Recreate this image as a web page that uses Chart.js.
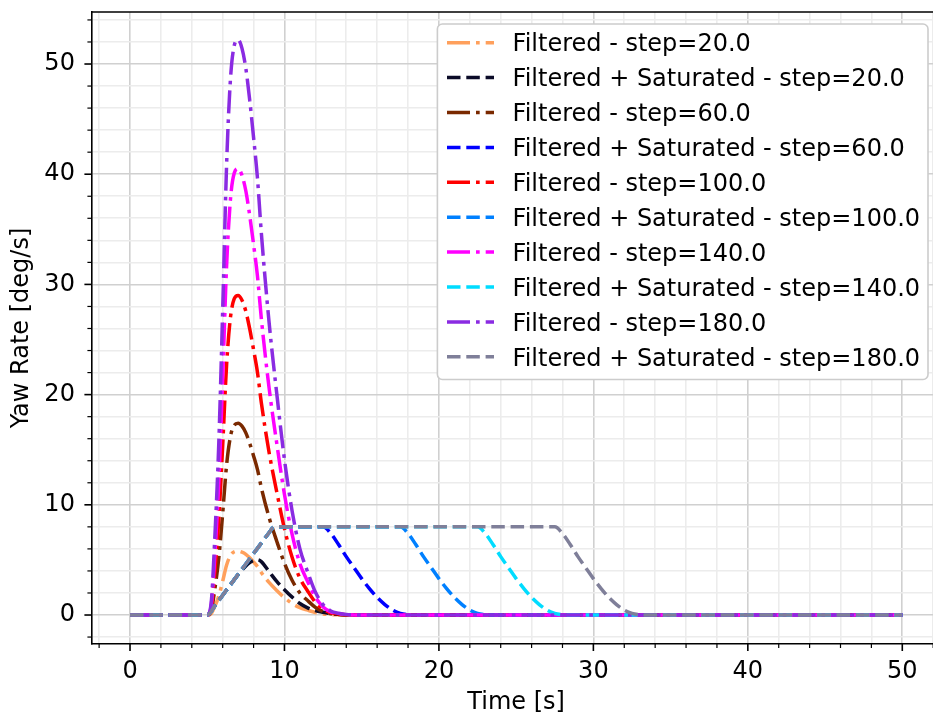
<!DOCTYPE html>
<html><head><meta charset="utf-8">
<script src="https://cdn.jsdelivr.net/npm/chart.js@4"></script>
<style>
html,body{margin:0;padding:0;overflow:hidden;background:#fff;width:933px;height:716px}
#wrap{position:absolute;left:0;top:0;width:950px;height:716px}
</style></head>
<body><div id="wrap"><canvas id="c" width="950" height="716" style="width:950px;height:716px"></canvas></div>
<script>
// ---------- data ----------
const timeShort = [0, 5, 5.25, 5.5, 5.75, 6, 6.25, 6.5, 6.75, 7, 7.25, 7.5, 7.75, 8, 8.25, 8.5, 9, 9.5, 10, 10.5, 11, 11.5, 12, 12.5, 13, 13.5, 14, 15, 16, 50];
const timeLong = [0, 5, 5.5, 6, 6.5, 7, 7.5, 8, 8.5, 9, 9.25, 9.5, 10, 10.5, 11, 11.5, 12, 12.5, 13, 13.5, 14, 14.5, 15, 15.5, 16, 16.5, 17, 17.5, 18, 18.5, 19, 19.5, 20, 20.5, 21, 21.5, 22, 22.5, 23, 23.5, 24, 24.5, 25, 25.5, 26, 26.5, 27, 27.5, 28, 28.5, 29, 29.5, 30, 30.5, 31, 31.5, 32, 32.5, 33, 33.5, 34, 50];

const filt20 = [0, 0, 0.12, 0.81, 1.74, 3.07, 4.52, 5.39, 5.74, 5.8, 5.71, 5.51, 5.19, 4.81, 4.41, 3.86, 2.96, 2.23, 1.57, 1.04, 0.67, 0.44, 0.23, 0.1, 0.04, 0.02, 0.01, 0, 0, 0];
const sat20 = [0, 0, 0.38, 0.85, 1.32, 1.8, 2.27, 2.74, 3.21, 3.66, 4.08, 4.45, 4.75, 4.95, 5.02, 4.85, 3.95, 3.05, 2.3, 1.62, 1.05, 0.65, 0.4, 0.25, 0.13, 0.06, 0.03, 0.005, 0, 0];
const filt60 = [0, 0, 0.35, 2.44, 5.22, 9.22, 13.57, 16.18, 17.23, 17.4, 17.14, 16.53, 15.57, 14.44, 13.22, 11.57, 8.87, 6.7, 4.7, 3.13, 2.0, 1.31, 0.7, 0.31, 0.12, 0.05, 0.02, 0, 0, 0];
const filt100 = [0, 0, 0.58, 4.06, 8.7, 15.37, 22.62, 26.97, 28.71, 29.0, 28.57, 27.55, 25.96, 24.07, 22.04, 19.29, 14.79, 11.17, 7.83, 5.22, 3.34, 2.18, 1.16, 0.52, 0.2, 0.09, 0.03, 0, 0, 0];
const filt140 = [0, 0, 0.81, 5.67, 12.15, 21.47, 31.59, 37.67, 40.1, 40.5, 39.89, 38.48, 36.25, 33.62, 30.78, 26.93, 20.66, 15.59, 10.94, 7.29, 4.66, 3.04, 1.62, 0.73, 0.28, 0.12, 0.04, 0, 0, 0];
const filt180 = [0, 0, 1.04, 7.31, 15.66, 27.67, 40.72, 48.55, 51.68, 52.2, 51.42, 49.59, 46.72, 43.33, 39.67, 34.71, 26.62, 20.1, 14.09, 9.4, 6.0, 3.92, 2.09, 0.94, 0.37, 0.16, 0.05, 0, 0, 0];

const sat60 = [0, 0, 0.85, 1.8, 2.74, 3.69, 4.63, 5.58, 6.52, 7.47, 7.93, 8,
  8, 8, 8, 8, 8, 8,
  7.4, 6.4, 5.3, 4.3, 3.3, 2.4, 1.6, 0.95, 0.45, 0.15, 0.03, 0, 0,
  0, 0, 0, 0, 0, 0, 0, 0, 0, 0, 0, 0, 0, 0, 0, 0, 0, 0, 0, 0, 0, 0, 0, 0, 0, 0, 0, 0, 0, 0, 0];
const sat100 = [0, 0, 0.85, 1.8, 2.74, 3.69, 4.63, 5.58, 6.52, 7.47, 7.93, 8,
  8, 8, 8, 8, 8, 8, 8, 8, 8, 8, 8, 8, 8, 8, 8, 8,
  7.4, 6.4, 5.3, 4.3, 3.3, 2.4, 1.6, 0.95, 0.45, 0.15, 0.03, 0, 0,
  0, 0, 0, 0, 0, 0, 0, 0, 0, 0, 0, 0, 0, 0, 0, 0, 0, 0, 0, 0, 0];
const sat140 = [0, 0, 0.85, 1.8, 2.74, 3.69, 4.63, 5.58, 6.52, 7.47, 7.93, 8,
  8, 8, 8, 8, 8, 8, 8, 8, 8, 8, 8, 8, 8, 8, 8, 8, 8, 8, 8, 8, 8, 8, 8, 8, 8, 8,
  7.4, 6.4, 5.3, 4.3, 3.3, 2.4, 1.6, 0.95, 0.45, 0.15, 0.03, 0, 0,
  0, 0, 0, 0, 0, 0, 0, 0, 0, 0, 0];
const sat180 = [0, 0, 0.85, 1.8, 2.74, 3.69, 4.63, 5.58, 6.52, 7.47, 7.93, 8,
  8, 8, 8, 8, 8, 8, 8, 8, 8, 8, 8, 8, 8, 8, 8, 8, 8, 8, 8, 8, 8, 8, 8, 8, 8, 8, 8, 8, 8, 8, 8, 8, 8, 8, 8, 8,
  7.4, 6.4, 5.3, 4.3, 3.3, 2.4, 1.6, 0.95, 0.45, 0.15, 0.03, 0, 0,
  0];

const seriesLabels = [
  'Filtered - step=20.0', 'Filtered + Saturated - step=20.0',
  'Filtered - step=60.0', 'Filtered + Saturated - step=60.0',
  'Filtered - step=100.0', 'Filtered + Saturated - step=100.0',
  'Filtered - step=140.0', 'Filtered + Saturated - step=140.0',
  'Filtered - step=180.0', 'Filtered + Saturated - step=180.0'
];

const xTicks = [-2, 0, 2, 4, 6, 8, 10, 12, 14, 16, 18, 20, 22, 24, 26, 28, 30, 32, 34, 36, 38, 40, 42, 44, 46, 48, 50, 52];
const yTicks = [-2, 0, 2, 4, 6, 8, 10, 12, 14, 16, 18, 20, 22, 24, 26, 28, 30, 32, 34, 36, 38, 40, 42, 44, 46, 48, 50, 52, 54];
const xLabelTicks = [0, 10, 20, 30, 40, 50];
const yLabelTicks = [0, 10, 20, 30, 40, 50];

// ---------- styles ----------
const FS = 24;
const FAMILY = '"DejaVu Sans", sans-serif';
const DASHDOT = [23, 6, 3.7, 6];
const DASHED = [13.5, 5.8];
const LW = 3.5;

const specs = [
  [timeShort, filt20, '#ffa05c', DASHDOT],
  [timeShort, sat20, '#0b0b28', DASHED],
  [timeShort, filt60, '#7a2900', DASHDOT],
  [timeLong, sat60, '#0000ff', DASHED],
  [timeShort, filt100, '#ff0000', DASHDOT],
  [timeLong, sat100, '#0080ff', DASHED],
  [timeShort, filt140, '#ff00ff', DASHDOT],
  [timeLong, sat140, '#00dcff', DASHED],
  [timeShort, filt180, '#8a2be2', DASHDOT],
  [timeLong, sat180, '#7f7f99', DASHED]
];

const datasets = specs.map((s, i) => ({
  label: seriesLabels[i],
  data: s[0].map((t, k) => ({x: t, y: s[1][k]})),
  borderColor: s[2],
  backgroundColor: s[2],
  borderDash: s[3],
  borderWidth: LW,
  pointRadius: 0,
  cubicInterpolationMode: 'monotone',
  fill: false,
  order: -i
}));

const AREA = {left: 91.4, right: 940.9, top: 12, bottom: 644};
const CW = 950, CH = 716;

const isMajor = v => Math.abs(v % 10) < 1e-9;

const mplPlugin = {
  id: 'mpl',
  afterDraw(chart) {
    const ctx = chart.ctx, a = chart.chartArea;
    const xs = chart.scales.x, ys = chart.scales.y;
    ctx.save();
    // top & right spines
    ctx.strokeStyle = '#000'; ctx.lineWidth = 1.6; ctx.setLineDash([]);
    ctx.beginPath();
    ctx.moveTo(a.left, a.top); ctx.lineTo(a.right, a.top); ctx.lineTo(a.right, a.bottom);
    ctx.stroke();
    // ticks
    xTicks.forEach(v => {
      const p = xs.getPixelForValue(v);
      const maj = isMajor(v);
      ctx.lineWidth = maj ? 1.6 : 1.2;
      ctx.beginPath(); ctx.moveTo(p, a.bottom); ctx.lineTo(p, a.bottom + (maj ? 7 : 4)); ctx.stroke();
    });
    yTicks.forEach(v => {
      const p = ys.getPixelForValue(v);
      const maj = isMajor(v);
      ctx.lineWidth = maj ? 1.6 : 1.2;
      ctx.beginPath(); ctx.moveTo(a.left, p); ctx.lineTo(a.left - (maj ? 7 : 4), p); ctx.stroke();
    });
    // legend
    const L = 437.4, T = 24, R = 928, B = 379.5;
    ctx.beginPath();
    ctx.roundRect(L, T, R - L, B - T, 5);
    ctx.fillStyle = '#ffffff'; ctx.fill();
    ctx.strokeStyle = '#cccccc'; ctx.lineWidth = 1.6; ctx.stroke();
    ctx.font = FS + 'px ' + FAMILY;
    ctx.textBaseline = 'alphabetic';
    ctx.textAlign = 'left';
    chart.data.datasets.forEach((ds, i) => {
      const y = 42.7 + i * 34.9;
      ctx.beginPath();
      ctx.setLineDash(ds.borderDash);
      ctx.strokeStyle = ds.borderColor;
      ctx.lineWidth = ds.borderWidth;
      ctx.moveTo(447, y); ctx.lineTo(494, y); ctx.stroke();
      ctx.setLineDash([]);
      ctx.fillStyle = '#000';
      ctx.fillText(ds.label, 512.6, y + 0.729 * FS / 2);
    });
    ctx.restore();
  }
};

Chart.defaults.font.family = FAMILY;
Chart.defaults.font.size = FS;
Chart.defaults.color = '#000';

new Chart(document.getElementById('c'), {
  type: 'line',
  data: {datasets},
  options: {
    responsive: false,
    animation: false,
    devicePixelRatio: 1,
    layout: {padding: {left: 0, top: AREA.top, right: CW - AREA.right, bottom: 0}},
    plugins: {legend: {display: false}, tooltip: {enabled: false}},
    scales: {
      x: {
        type: 'linear', min: -2.5, max: 52.5,
        afterBuildTicks: s => { s.ticks = xTicks.map(v => ({value: v})); },
        afterFit: s => { s.height = CH - AREA.bottom; s.paddingLeft = 0; s.paddingRight = 0; s.paddingTop = 0; s.paddingBottom = 0; },
        ticks: {
          autoSkip: false, maxRotation: 0, minRotation: 0, padding: 13.3,
          font: {size: FS, lineHeight: 1.2},
          callback: v => xLabelTicks.includes(v) ? String(v) : ''
        },
        grid: {
          drawTicks: false,
          color: c => (c.tick && isMajor(c.tick.value)) ? '#d0d0d0' : '#ececec',
          lineWidth: 1.6
        },
        border: {display: true, color: '#000', width: 1.6},
        title: {display: true, text: 'Time [s]', font: {size: FS, lineHeight: 1.2}, padding: {top: 0, bottom: -1.5}}
      },
      y: {
        type: 'linear', min: -2.63, max: 54.72,
        afterBuildTicks: s => { s.ticks = yTicks.map(v => ({value: v})); },
        afterFit: s => { s.width = AREA.left; s.paddingLeft = 0; s.paddingRight = 0; s.paddingTop = 0; s.paddingBottom = 0; },
        ticks: {
          autoSkip: false, padding: 16.5,
          font: {size: FS, lineHeight: 1.2},
          callback: v => yLabelTicks.includes(v) ? String(v) : ''
        },
        grid: {
          drawTicks: false,
          color: c => (c.tick && isMajor(c.tick.value)) ? '#d0d0d0' : '#ececec',
          lineWidth: 1.6
        },
        border: {display: true, color: '#000', width: 1.6},
        title: {display: true, text: 'Yaw Rate [deg/s]', font: {size: FS, lineHeight: 1.2}, padding: {top: 7.1, bottom: 0}}
      }
    }
  },
  plugins: [mplPlugin]
});
</script>
</body></html>
